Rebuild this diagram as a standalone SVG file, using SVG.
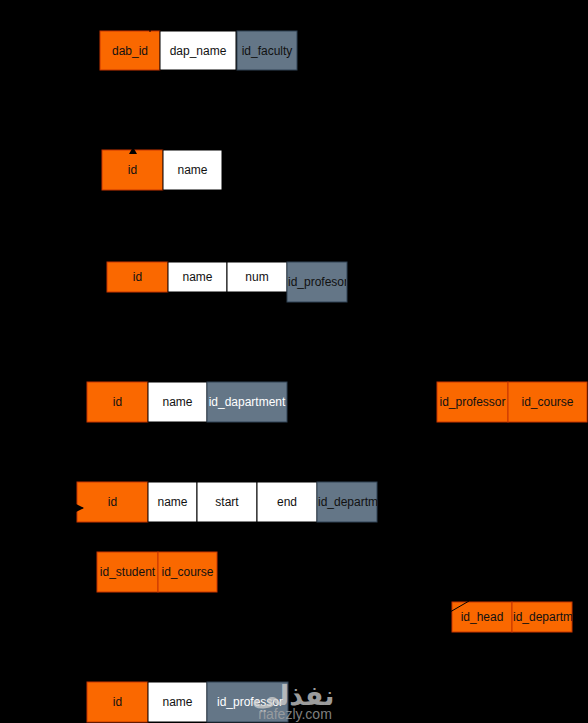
<svg xmlns="http://www.w3.org/2000/svg" width="588" height="723" viewBox="0 0 588 723">
<style>
.o{fill:#fa6800;stroke:#c73500;stroke-width:1}
.w{fill:#ffffff;stroke:#000000;stroke-width:1}
.s{fill:#647687;stroke:#314354;stroke-width:1}
text{font-family:"Liberation Sans",Arial,sans-serif;font-size:12px;text-anchor:middle;dominant-baseline:central;fill:#111111}
text.wt{fill:#ffffff}
text.l{text-anchor:start}
.c{fill:none;stroke:#000000;stroke-width:1}
</style>
<defs>
<marker id="ah" markerWidth="8" markerHeight="8" refX="7" refY="4" orient="auto" markerUnits="userSpaceOnUse">
<path d="M0,0 L8,4 L0,8 Z" fill="#000000"/>
</marker>
<clipPath id="cp1"><rect x="287" y="262" width="59" height="40"/></clipPath>
<clipPath id="cp2"><rect x="317" y="482" width="60" height="40"/></clipPath>
<clipPath id="cp3"><rect x="512" y="602" width="60" height="30"/></clipPath>
</defs>
<rect width="588" height="723" fill="#000000"/>
<g id="faculty">
<rect class="o" x="100" y="31" width="60" height="39"/><text x="130" y="50.5">dab_id</text>
<rect class="w" x="160" y="31" width="76" height="39"/><text x="198" y="50.5">dap_name</text>
<rect class="s" x="237" y="31" width="60" height="39"/><text x="267" y="50.5">id_faculty</text>
</g>
<g id="entity2">
<rect class="o" x="102" y="150" width="61" height="40"/><text x="132.5" y="170">id</text>
<rect class="w" x="163" y="150" width="59" height="40"/><text x="192.5" y="170">name</text>
</g>
<g id="course">
<rect class="o" x="107" y="262" width="61" height="30"/><text x="137.5" y="277">id</text>
<rect class="w" x="168" y="262" width="59" height="30"/><text x="197.5" y="277">name</text>
<rect class="w" x="227" y="262" width="60" height="30"/><text x="257" y="277">num</text>
<rect class="s" x="287" y="262" width="60" height="40"/><text class="l" x="288" y="282" clip-path="url(#cp1)">id_profesor</text>
</g>
<g id="professor">
<rect class="o" x="87" y="382" width="61" height="40"/><text x="117.5" y="402">id</text>
<rect class="w" x="148" y="382" width="59" height="40"/><text x="177.5" y="402">name</text>
<rect class="s" x="207" y="382" width="80" height="40"/><text class="wt" x="247" y="402">id_dapartment</text>
</g>
<g id="prof_course">
<rect class="o" x="437" y="382" width="71" height="40"/><text x="472.5" y="402">id_professor</text>
<rect class="o" x="508" y="382" width="79" height="40"/><text x="547.5" y="402">id_course</text>
</g>
<g id="student">
<rect class="o" x="77" y="482" width="71" height="40"/><text x="112.5" y="502">id</text>
<rect class="w" x="148" y="482" width="49" height="40"/><text x="172.5" y="502">name</text>
<rect class="w" x="197" y="482" width="60" height="40"/><text x="227" y="502">start</text>
<rect class="w" x="257" y="482" width="60" height="40"/><text x="287" y="502">end</text>
<rect class="s" x="317" y="482" width="60" height="40"/>
<text class="l" x="318" y="502" clip-path="url(#cp2)">id_department</text>
</g>
<g id="student_course">
<rect class="o" x="97" y="552" width="61" height="40"/><text x="127.5" y="572">id_student</text>
<rect class="o" x="158" y="552" width="59" height="40"/><text x="187.5" y="572">id_course</text>
</g>
<g id="head">
<rect class="o" x="452" y="602" width="60" height="30"/><text x="482" y="617">id_head</text>
<rect class="o" x="512" y="602" width="60" height="30"/>
<text class="l" x="513" y="617" clip-path="url(#cp3)">id_department</text>
</g>
<g id="entity8">
<rect class="o" x="87" y="682" width="61" height="40"/><text x="117.5" y="702">id</text>
<rect class="w" x="148" y="682" width="59" height="40"/><text x="177.5" y="702">name</text>
<rect class="s" x="207" y="682" width="81" height="40"/><text class="wt" x="250" y="702">id_professor</text>
</g>
<g id="connectors">
<path class="c" d="M133,148 L133,110"/>
<path d="M129,154 L133,147 L137,154 Z" fill="#000000"/>
<path class="c" d="M40,508 L83,508" marker-end="url(#ah)"/>
<path class="c" d="M400,641 L469,601"/>
<path class="c" d="M150,5 L150,32"/>
</g>
<g id="watermark" opacity="0.75">
<text x="293" y="695" style="font-family:'DejaVu Sans',sans-serif;font-size:27px;font-weight:bold;fill:#d0d0d0">نفذلي</text>
<text x="295" y="714" style="font-size:14px;fill:#a8a8a8">nafezly.com</text>
</g>
</svg>
